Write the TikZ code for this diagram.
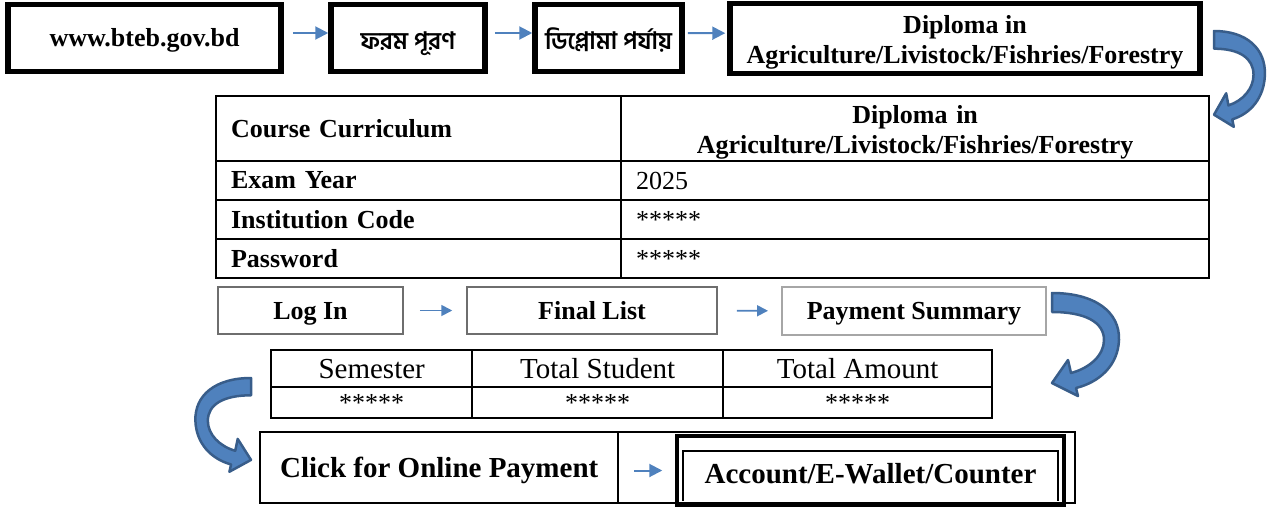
\documentclass[tikz,border=0pt]{standalone}
\usepackage{fontspec}
\setmainfont{Liberation Serif}
\newfontfamily\bnfont[Script=Bengali]{Hind Siliguri}
\usetikzlibrary{arrows.meta}
\definecolor{flowblue}{HTML}{4F81BD}
\definecolor{bendline}{HTML}{385D8A}
\definecolor{boxgray}{HTML}{6E6E6E}
\newcommand{\flowsize}{\fontsize{26}{30}\selectfont}
\newcommand{\headsize}{\fontsize{29}{32}\selectfont}
\newcommand{\bnsize}{\fontsize{24}{28}\selectfont}

\tikzset{
  bendarrow/.pic={
    \filldraw[fill=flowblue, draw=bendline, line width=2.5pt, line join=round]
      (0,0) .. controls (43,0) and (68,19) .. (67,47)
      .. controls (66,72) and (48,89) .. (24,95) -- (26,103) -- (0,90)
      -- (16,67) -- (19,80) .. controls (38,75) and (52,62) .. (52,47)
      .. controls (52,29) and (33,19) .. (0,19) -- cycle;
  }
}

\begin{document}
\begin{tikzpicture}[x=1pt, y=-1pt,
    every node/.style={inner sep=0pt},
    topbox/.style={draw, line width=5.5pt, minimum height=67pt, text height=20pt, text depth=3pt, font=\bfseries\flowsize},
    bnbox/.style={topbox, text height=22pt, text depth=0pt, font=\bnfont\bfseries\bnsize},
    cell/.style={draw, line width=2.2pt, anchor=north west, inner xsep=15pt, align=left, font=\flowsize},
    sumcell/.style={draw, line width=2.4pt, anchor=north west, align=center},
    stepbox/.style={draw=boxgray, line width=1.5pt, minimum height=47pt, text height=18pt, text depth=1pt, font=\bfseries\flowsize},
    flow/.style={flowblue, line width=2pt, -{Triangle[length=13pt,width=13pt]}},
    smallflow/.style={flowblue, line width=1.8pt, -{Triangle[length=11pt,width=11pt]}}]
  \useasboundingbox (0,0) rectangle (1269,506);

  \node[topbox, minimum width=273pt] (site) at (144.5,38) {www.bteb.gov.bd};
  \node[bnbox, minimum width=154pt] (form) at (408,38) {ফরম পূরণ};
  \node[bnbox, minimum width=147pt] (level) at (608.5,38) {ডিপ্লোমা পর্যায়};
  \node[topbox, minimum width=470pt, minimum height=70pt, text height=, text depth=, align=center] (dipl) at (965,38.5)
    {\rule{0pt}{26pt}Diploma in\\Agriculture/Livistock/Fishries/Forestry};

  \draw[flow, shorten <=9pt, transform canvas={yshift=5pt}] (site) -- (form);
  \draw[flow, shorten <=7pt, transform canvas={yshift=5pt}] (form) -- (level);
  \draw[flow, shorten <=3pt, shorten >=2pt, transform canvas={yshift=5pt}] (level) -- (dipl);

  \coordinate (bendA) at (1214,31);
  \pic[xscale=0.76, yscale=0.93] at (bendA) {bendarrow};

  \node[cell, text width=375pt, minimum height=65pt, font=\bfseries\flowsize] (curr) at (215,95) {Course Curriculum};
  \node[cell, text width=558pt, minimum height=65pt, align=center, font=\bfseries\flowsize] (currv) at (620,95)
    {\rule{0pt}{25pt}Diploma in\\Agriculture/Livistock/Fishries/Forestry};
  \node[cell, text width=375pt, minimum height=39pt, font=\bfseries\flowsize] (year) at (215,160) {Exam Year};
  \node[cell, text width=558pt, minimum height=39pt] (yearv) at (620,160) {2025};
  \node[cell, text width=375pt, minimum height=39pt, font=\bfseries\flowsize] (inst) at (215,199) {Institution Code};
  \node[cell, text width=558pt, minimum height=39pt] (instv) at (620,199) {*****};
  \node[cell, text width=375pt, minimum height=39pt, font=\bfseries\flowsize] (pass) at (215,238) {Password};
  \node[cell, text width=558pt, minimum height=39pt] (passv) at (620,238) {*****};

  \node[stepbox, minimum width=185pt] (login) at (310.5,310.5) {Log In};
  \node[stepbox, minimum width=250pt] (final) at (592,310.5) {Final List};
  \node[stepbox, minimum width=264pt, minimum height=48pt, draw=gray!70, line width=2pt] (summary) at (914,311) {Payment Summary};

  \draw[smallflow, shorten <=16pt, shorten >=14pt] (login) -- (final);
  \draw[smallflow, shorten <=19pt, shorten >=13pt] (final) -- (summary);

  \coordinate (bendB) at (1052,293);
  \pic at (bendB) {bendarrow};

  \node[sumcell, minimum width=201pt, minimum height=37pt, font=\headsize] (sem) at (270,349) {Semester};
  \node[sumcell, minimum width=251pt, minimum height=37pt, font=\headsize] (stud) at (471,349) {Total Student};
  \node[sumcell, minimum width=269pt, minimum height=37pt, font=\headsize] (amt) at (722,349) {Total Amount};
  \node[sumcell, minimum width=201pt, minimum height=31pt, font=\flowsize] (semv) at (270,386) {*****};
  \node[sumcell, minimum width=251pt, minimum height=31pt, font=\flowsize] (studv) at (471,386) {*****};
  \node[sumcell, minimum width=269pt, minimum height=31pt, font=\flowsize] (amtv) at (722,386) {*****};

  \coordinate (bendC) at (251,378);
  \pic[xscale=-0.83, yscale=0.91] at (bendC) {bendarrow};

  \node[sumcell, minimum width=358pt, minimum height=71pt, text height=22pt, text depth=2pt, font=\bfseries\headsize] (click) at (259,431) {Click for Online Payment};
  \node[sumcell, minimum width=457pt, minimum height=71pt] (paycell) at (617,431) {};
  \node[draw, line width=3.5pt, minimum width=387pt, minimum height=69pt, text height=25pt, text depth=0pt, font=\bfseries\headsize] (account) at (870.5,470.5)
    {Account/E-Wallet/Counter};
  \draw[line width=1.5pt] (683,501) |- (1058,451) -- (1058,501);

  \draw[flow, shorten <=15pt, shorten >=13pt] (click.east |- account) -- (account);
\end{tikzpicture}
\end{document}
